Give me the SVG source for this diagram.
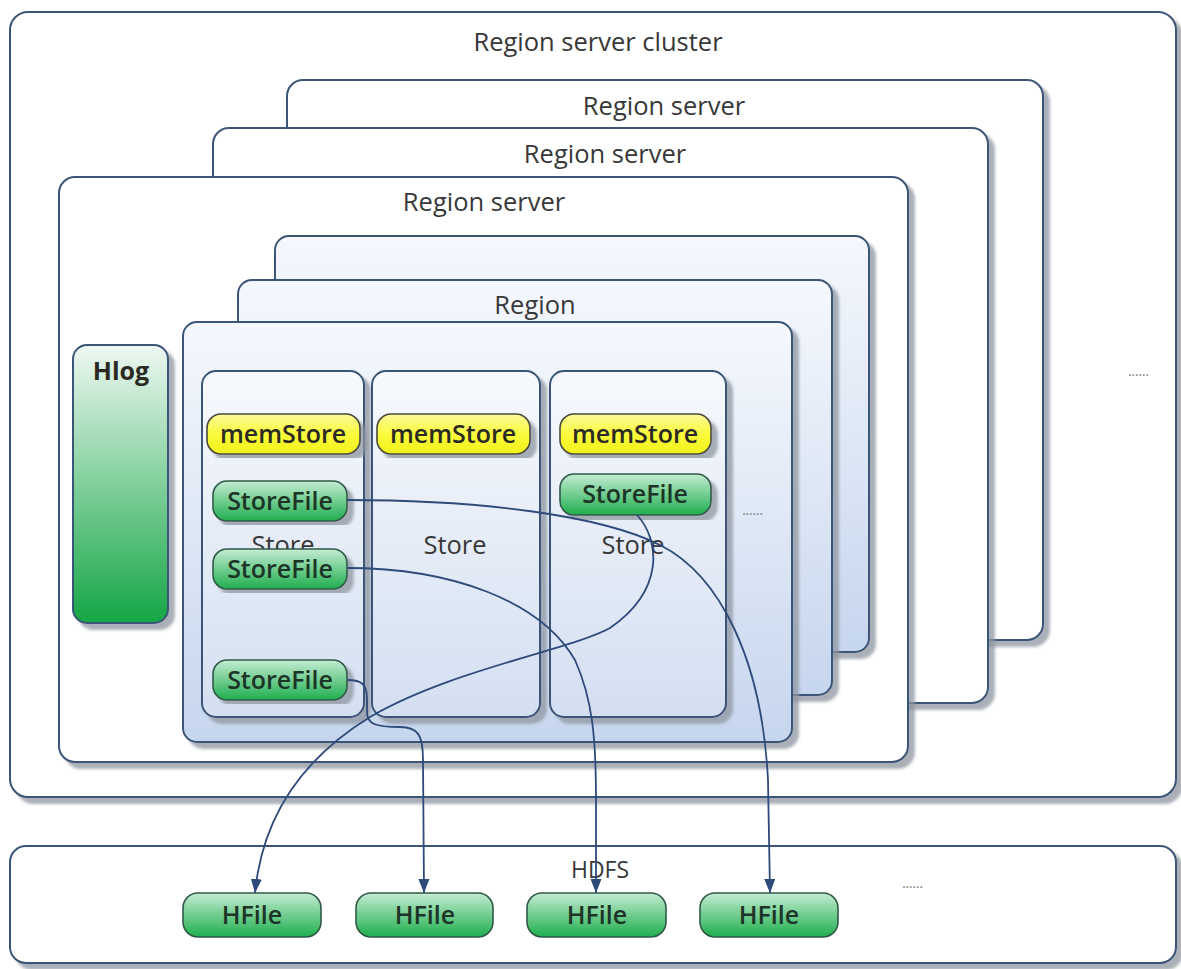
<svg xmlns="http://www.w3.org/2000/svg" width="1181" height="969" viewBox="0 0 1181 969">
  <style>
    .frame { fill: #ffffff; stroke: #3b5578; stroke-width: 2; }
    .region { fill: url(#regionFill); stroke: #3b5578; stroke-width: 2; }
    .store { fill: url(#storeFill); stroke: #3b5578; stroke-width: 2; }
    .mem { fill: url(#memFill); stroke: #4a4a3a; stroke-width: 1.6; }
    .file { fill: url(#fileFill); stroke: #2f5a48; stroke-width: 1.6; }
    .hlog { fill: url(#hlogFill); stroke: #3b5578; stroke-width: 2; }
    .title { font-family: "Open Sans", "Noto Sans", "Liberation Sans", sans-serif; font-size: 25.5px; fill: #383838; text-anchor: middle; }
    .label { font-family: "Open Sans", "Noto Sans", "Liberation Sans", sans-serif; font-size: 25px; font-weight: 600; fill: #2a2a22; text-anchor: middle; }
    .file-label { fill: #1c3526; }
    .dots { font-family: "Liberation Sans", sans-serif; font-size: 16px; fill: #8a8a8a; text-anchor: middle; letter-spacing: -1px; }
    .link { fill: none; stroke: #2e4a7a; stroke-width: 1.8; }
  </style>
  <defs>
    <filter id="shadow" x="-5%" y="-5%" width="115%" height="115%">
      <feDropShadow dx="6" dy="6" stdDeviation="1.5" flood-color="#8f95a0" flood-opacity="0.75"/>
    </filter>
    <linearGradient id="regionFill" x1="0" y1="0" x2="0" y2="1">
      <stop offset="0" stop-color="#f5f8fd"/>
      <stop offset="1" stop-color="#c6d6ee"/>
    </linearGradient>
    <linearGradient id="storeFill" x1="0" y1="0" x2="0" y2="1">
      <stop offset="0" stop-color="#f7f9fd"/>
      <stop offset="1" stop-color="#d3dff1"/>
    </linearGradient>
    <linearGradient id="memFill" x1="0" y1="0" x2="0" y2="1">
      <stop offset="0" stop-color="#fbfb9a"/>
      <stop offset="0.5" stop-color="#fafa3c"/>
      <stop offset="1" stop-color="#f2f21a"/>
    </linearGradient>
    <linearGradient id="fileFill" x1="0" y1="0" x2="0" y2="1">
      <stop offset="0" stop-color="#c4ecd2"/>
      <stop offset="1" stop-color="#1fae4e"/>
    </linearGradient>
    <linearGradient id="hlogFill" x1="0" y1="0" x2="0" y2="1">
      <stop offset="0" stop-color="#eef8f2"/>
      <stop offset="1" stop-color="#15a646"/>
    </linearGradient>
    <marker id="arrow" viewBox="0 0 14 12" refX="14" refY="6" markerWidth="14" markerHeight="12" markerUnits="userSpaceOnUse" orient="auto">
      <path d="M0,0.5 L14,6 L0,11.5 Z" fill="#2e4a7a"/>
    </marker>
  </defs>

  <!-- Region server cluster -->
  <g id="cluster">
    <rect class="frame" x="10" y="12" width="1166" height="785" rx="18" filter="url(#shadow)"/>
    <text class="title" x="598" y="51">Region server cluster</text>
  </g>

  <!-- Region servers, back to front -->
  <g id="region-server-3">
    <rect class="frame" x="287" y="80" width="756" height="560" rx="16" filter="url(#shadow)"/>
    <text class="title" x="664" y="115">Region server</text>
  </g>
  <g id="region-server-2">
    <rect class="frame" x="213" y="128" width="775" height="575" rx="16" filter="url(#shadow)"/>
    <text class="title" x="605" y="163">Region server</text>
  </g>
  <g id="region-server-1">
    <rect class="frame" x="59" y="177" width="849" height="585" rx="16" filter="url(#shadow)"/>
    <text class="title" x="484" y="211">Region server</text>
  </g>
  <g id="more-servers">
    <text class="dots" x="1138" y="376">......</text>
  </g>

  <!-- Write-ahead log -->
  <g id="hlog">
    <rect class="hlog" x="73" y="345" width="95" height="278" rx="14" filter="url(#shadow)"/>
    <text class="label" x="121" y="380" style="font-weight:700">Hlog</text>
  </g>

  <!-- Regions, back to front -->
  <g id="region-3">
    <rect class="region" x="275" y="236" width="594" height="416" rx="14" filter="url(#shadow)"/>
  </g>
  <g id="region-2">
    <rect class="region" x="238" y="280" width="594" height="415" rx="14" filter="url(#shadow)"/>
    <text class="title" x="535" y="314">Region</text>
  </g>
  <g id="region-1">
    <rect class="region" x="183" y="322" width="609" height="420" rx="14" filter="url(#shadow)"/>
  </g>

  <!-- Stores -->
  <g id="store-1">
    <rect class="store" x="202" y="371" width="162" height="346" rx="14" filter="url(#shadow)"/>
    <text class="title" x="283" y="554">Store</text>
  </g>
  <g id="store-2">
    <rect class="store" x="372" y="371" width="168" height="346" rx="14" filter="url(#shadow)"/>
    <text class="title" x="455" y="554">Store</text>
  </g>
  <g id="store-3">
    <rect class="store" x="550" y="371" width="176" height="346" rx="14" filter="url(#shadow)"/>
    <text class="title" x="633" y="554">Store</text>
  </g>
  <g id="more-stores">
    <text class="dots" x="752" y="515">......</text>
  </g>

  <!-- memStores -->
  <g id="memstore-1">
    <rect class="mem" x="207" y="414" width="153" height="40" rx="14" filter="url(#shadow)"/>
    <text class="label" x="283" y="443">memStore</text>
  </g>
  <g id="memstore-2">
    <rect class="mem" x="377" y="414" width="153" height="40" rx="14" filter="url(#shadow)"/>
    <text class="label" x="453" y="443">memStore</text>
  </g>
  <g id="memstore-3">
    <rect class="mem" x="560" y="414" width="151" height="40" rx="14" filter="url(#shadow)"/>
    <text class="label" x="635" y="443">memStore</text>
  </g>

  <!-- StoreFiles -->
  <g id="storefile-1a">
    <rect class="file" x="213" y="481" width="134" height="40" rx="14" filter="url(#shadow)"/>
    <text class="label file-label" x="280" y="510">StoreFile</text>
  </g>
  <g id="storefile-1b">
    <rect class="file" x="213" y="549" width="134" height="40" rx="14" filter="url(#shadow)"/>
    <text class="label file-label" x="280" y="578">StoreFile</text>
  </g>
  <g id="storefile-1c">
    <rect class="file" x="213" y="660" width="134" height="40" rx="14" filter="url(#shadow)"/>
    <text class="label file-label" x="280" y="689">StoreFile</text>
  </g>
  <g id="storefile-3a">
    <rect class="file" x="560" y="474" width="151" height="41" rx="14" filter="url(#shadow)"/>
    <text class="label file-label" x="635" y="503">StoreFile</text>
  </g>

  <!-- HDFS -->
  <g id="hdfs">
    <rect class="frame" x="10" y="846" width="1166" height="117" rx="16" filter="url(#shadow)"/>
    <text class="title" x="600" y="878" style="font-size:23px">HDFS</text>
  </g>
  <g id="hfile-1">
    <rect class="file" x="183" y="893" width="138" height="44" rx="15"/>
    <text class="label file-label" x="252" y="924">HFile</text>
  </g>
  <g id="hfile-2">
    <rect class="file" x="356" y="893" width="137" height="44" rx="15"/>
    <text class="label file-label" x="425" y="924">HFile</text>
  </g>
  <g id="hfile-3">
    <rect class="file" x="527" y="893" width="139" height="44" rx="15"/>
    <text class="label file-label" x="597" y="924">HFile</text>
  </g>
  <g id="hfile-4">
    <rect class="file" x="700" y="893" width="138" height="44" rx="15"/>
    <text class="label file-label" x="769" y="924">HFile</text>
  </g>
  <g id="more-hfiles">
    <text class="dots" x="912" y="888">......</text>
  </g>

  <!-- Flushes from StoreFiles down to HFiles -->
  <g id="connectors">
    <path class="link" marker-end="url(#arrow)" d="M347,500 C480,500 600,515 660,545 C720,575 762,660 768,780 L770,893"/>
    <path class="link" marker-end="url(#arrow)" d="M347,568 C450,568 540,600 575,660 C593,700 596,740 596,800 L596,893"/>
    <path class="link" marker-end="url(#arrow)" d="M347,680 C362,680 367,684 367,700 L367,712 C367,724 375,727 400,727 C418,727 423,735 423,760 L424,893"/>
    <path class="link" marker-end="url(#arrow)" d="M637,515 C660,540 665,590 610,628 C570,650 450,670 370,717 C300,760 262,820 255,893"/>
  </g>
</svg>
